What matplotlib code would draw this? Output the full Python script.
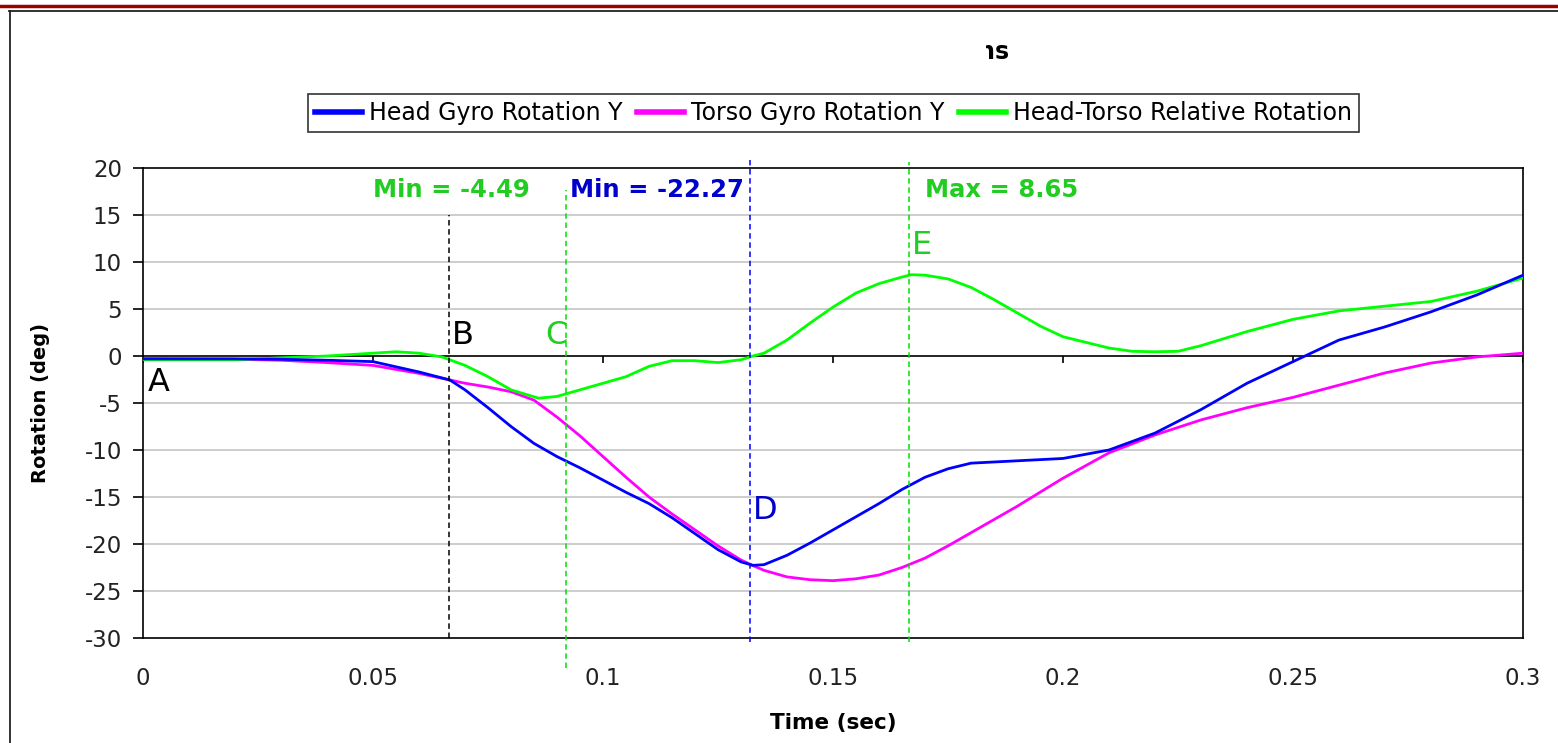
"""
Head / torso gyro rotation chart
"""

import numpy as np
import matplotlib.pyplot as plt
from matplotlib.lines import Line2D
from matplotlib.patches import Rectangle

plt.rcParams['axes.unicode_minus'] = False

# ---- data ----
time_s = [0, 0.02, 0.03, 0.04, 0.05, 0.06, 0.0667, 0.07, 0.075, 0.08, 0.085,
          0.09, 0.095, 0.1, 0.105, 0.11, 0.115, 0.12, 0.125, 0.13, 0.1326,
          0.135, 0.14, 0.145, 0.15, 0.155, 0.16, 0.165, 0.17, 0.175, 0.18,
          0.19, 0.2, 0.21, 0.22, 0.23, 0.24, 0.25, 0.26, 0.27, 0.28, 0.29, 0.3]

head_rot = [-0.3, -0.3, -0.35, -0.45, -0.6, -1.7, -2.55, -3.6, -5.5, -7.5, -9.3,
            -10.7, -11.9, -13.2, -14.5, -15.7, -17.2, -18.9, -20.6, -21.9, -22.27,
            -22.2, -21.2, -19.9, -18.5, -17.1, -15.7, -14.2, -12.9, -12.0, -11.4,
            -11.15, -10.9, -10.0, -8.2, -5.7, -2.9, -0.6, 1.7, 3.1, 4.7, 6.5, 8.6]

torso_rot = [-0.3, -0.35, -0.45, -0.7, -1.0, -1.85, -2.55, -2.9, -3.3, -3.8, -4.7,
             -6.5, -8.5, -10.7, -12.9, -15.0, -16.8, -18.5, -20.2, -21.7, -22.3,
             -22.8, -23.5, -23.8, -23.9, -23.7, -23.3, -22.5, -21.5, -20.2, -18.8,
             -16.0, -13.0, -10.3, -8.4, -6.8, -5.5, -4.4, -3.1, -1.8, -0.75, -0.1, 0.3]

rel_time = [0, 0.02, 0.03, 0.04, 0.05, 0.055, 0.06, 0.065, 0.07, 0.075, 0.08,
            0.086, 0.09, 0.095, 0.1, 0.105, 0.11, 0.115, 0.12, 0.125, 0.13,
            0.1326, 0.135, 0.14, 0.145, 0.15, 0.155, 0.16, 0.165, 0.167, 0.17,
            0.175, 0.18, 0.185, 0.19, 0.195, 0.2, 0.21, 0.215, 0.22, 0.225, 0.23,
            0.24, 0.25, 0.26, 0.27, 0.28, 0.29, 0.3]
rel_rot = [-0.4, -0.4, -0.2, 0.0, 0.3, 0.45, 0.3, -0.1, -1.0, -2.2, -3.6,
           -4.49, -4.3, -3.6, -2.9, -2.2, -1.1, -0.5, -0.5, -0.7, -0.4,
           0.0, 0.3, 1.7, 3.5, 5.2, 6.7, 7.7, 8.4, 8.65, 8.6,
           8.2, 7.3, 6.0, 4.6, 3.2, 2.05, 0.85, 0.5, 0.45, 0.5, 1.1,
           2.6, 3.9, 4.8, 5.3, 5.8, 6.9, 8.3]

# event markers: time, colour, y range
event_t = [0.0665, 0.092, 0.132, 0.1665]
event_col = ['black', '#00e000', '#0000ff', '#00e000']
event_lo = [-30, -33.2, -30.4, -30.4]
event_hi = [15.0, 17.7, 20.9, 20.6]

xticks = [0, 0.05, 0.1, 0.15, 0.2, 0.25, 0.3]
xtick_labels = ['0', '0.05', '0.1', '0.15', '0.2', '0.25', '0.3']
yticks = list(range(-30, 25, 5))

GREEN_TXT = '#22cc22'
BLUE_TXT = '#0000cc'

fig = plt.figure(figsize=(15.58, 7.43), dpi=100)
W, H = 1558, 743

# page frame
fig.add_artist(Line2D([0, 1], [1 - 6 / H, 1 - 6 / H], color='#990000', lw=2.5))
fig.add_artist(Line2D([9 / W, 1], [1 - 10.5 / H, 1 - 10.5 / H], color='#222222', lw=1.3))
fig.add_artist(Line2D([9.5 / W, 9.5 / W], [0, 1 - 10.5 / H], color='#222222', lw=1.3))

# title (mostly hidden in the reference)
fig.text(1010 / W, 1 - 52 / H, 'Rotations', ha='right', va='center',
         fontsize=17, fontweight='bold', zorder=1)
fig.add_artist(Rectangle((300 / W, 1 - 80 / H), (986 - 300) / W, 50 / H,
                         transform=fig.transFigure, facecolor='white',
                         edgecolor='none', zorder=5))

ax = fig.add_axes([143 / W, 1 - 638 / H, 1380 / W, 470 / H])

ax.plot(time_s, head_rot, color='#0000ff', lw=2, label='Head Gyro Rotation Y', zorder=4)
ax.plot(time_s, torso_rot, color='#ff00ff', lw=2, label='Torso Gyro Rotation Y', zorder=3)
ax.plot(rel_time, rel_rot, color='#00ff00', lw=2, label='Head-Torso Relative Rotation', zorder=3)

ax.set_xlim(0, 0.3)
ax.set_ylim(-30, 20)

# grid + zero axis with its tick marks
for y in yticks:
    if y not in (-30, 0, 20):
        ax.axhline(y, color='#c0c0c0', lw=1.1, zorder=1)
ax.axhline(0, color='black', lw=1.2, zorder=2)
ax.vlines(xticks, -0.7, 0, color='black', lw=1.2, zorder=2)

for t, c, lo, hi in zip(event_t, event_col, event_lo, event_hi):
    ax.vlines(t, lo, hi, colors=c, lw=1.1, linestyles=(0, (3.6, 2.4)),
              clip_on=False, zorder=5)

# annotations
ax.text(0.05, 17.66, 'Min = -4.49', color=GREEN_TXT, fontsize=17.5,
        fontweight='bold', va='center', ha='left')
ax.text(0.0928, 17.66, 'Min = -22.27', color=BLUE_TXT, fontsize=17.5,
        fontweight='bold', va='center', ha='left')
ax.text(0.170, 17.66, 'Max = 8.65', color=GREEN_TXT, fontsize=17.5,
        fontweight='bold', va='center', ha='left')
ax.text(0.0011, -2.87, 'A', color='black', fontsize=23, va='center', ha='left')
ax.text(0.0672, 2.13, 'B', color='black', fontsize=23, va='center', ha='left')
ax.text(0.0874, 2.13, 'C', color=GREEN_TXT, fontsize=23, va='center', ha='left')
ax.text(0.1326, -16.4, 'D', color=BLUE_TXT, fontsize=23, va='center', ha='left')
ax.text(0.1672, 11.8, 'E', color=GREEN_TXT, fontsize=23, va='center', ha='left')

# axes styling
for s in ax.spines.values():
    s.set_color('black')
    s.set_linewidth(1.2)
ax.set_xticks(xticks)
ax.set_xticklabels(xtick_labels)
ax.set_yticks(yticks)
ax.tick_params(axis='x', length=0, pad=21, labelsize=16.5, labelcolor='#222222')
ax.tick_params(axis='y', direction='out', length=7.2, width=1.2, pad=8,
               labelsize=16.5, labelcolor='#222222')

ax.set_xlabel('Time (sec)', fontsize=15.5, fontweight='bold')
ax.xaxis.set_label_coords(0.5, -0.16)
ax.set_ylabel('Rotation (deg)', fontsize=14, fontweight='bold')
ax.yaxis.set_label_coords(-0.0674, 0.5)

leg = fig.legend(loc='center', bbox_to_anchor=(833.5 / W, 1 - 113 / H), ncol=3,
                 fontsize=17, frameon=True, fancybox=False, handlelength=2.0,
                 handletextpad=0.3, columnspacing=0.6, borderpad=0.3,
                 borderaxespad=0)
leg.get_frame().set_edgecolor('black')
leg.get_frame().set_linewidth(1.2)
for h in leg.get_lines():
    h.set_linewidth(4)

fig.savefig('out.png', dpi=100)
